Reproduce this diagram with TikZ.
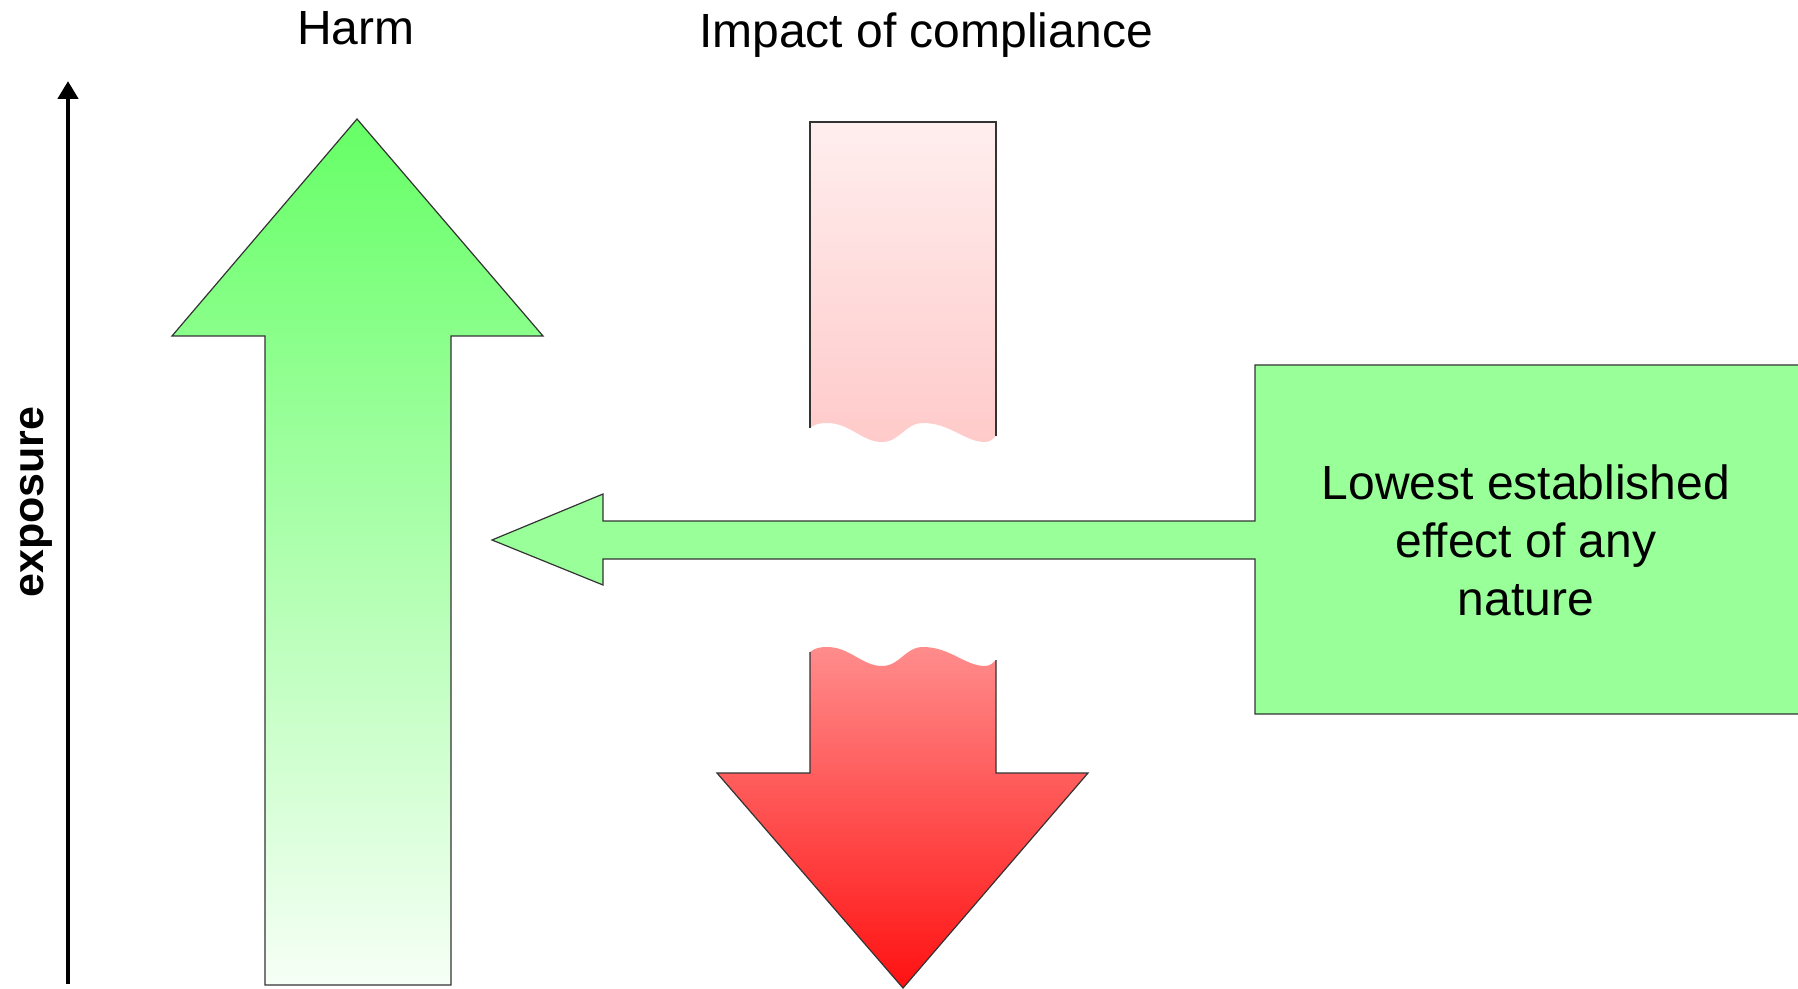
\documentclass[tikz,border=0pt]{standalone}
\usepackage{fontspec}
\setmainfont{Liberation Sans}
\usetikzlibrary{arrows.meta}

\definecolor{harmtop}{RGB}{102,255,102}
\definecolor{harmbottom}{RGB}{246,255,246}
\definecolor{pinktop}{RGB}{255,238,238}
\definecolor{pinkbottom}{RGB}{255,202,202}
\definecolor{redtop}{RGB}{255,140,140}
\definecolor{redbottom}{RGB}{255,17,17}
\definecolor{boxgreen}{RGB}{153,255,153}

\begin{document}
\begin{tikzpicture}[x=0.5pt,y=-0.5pt,
    outline/.style={draw=black!80,line width=0.6pt},
    title/.style={anchor=base,font=\fontsize{24}{29}\selectfont}]
  \useasboundingbox (0,0) rectangle (1798,989);
  % axis on the left
  \coordinate (axisbottom) at (68,984);
  \coordinate (axistop) at (68,81);
  \draw [line width=2.4pt,-{Triangle[length=9pt,width=10pt]}] (axisbottom) -- (axistop);
  \node [rotate=90,anchor=base,font=\bfseries\fontsize{21.5}{26}\selectfont] (exposure) at (43,502) {exposure};
  % headings
  \node [title] (harm) at (356,45) {Harm};
  \node [title] (impact) at (926,48) {Impact of compliance};
  % harm arrow
  \draw [outline,top color=harmtop,bottom color=harmbottom] %
        (265,985) -- (265,336) -- (172,336) -- (357,119) -- (543,336)%
        -- (451,336) -- (451,985) -- cycle;
  % torn bar, upper part
  \shade [top color=pinktop,bottom color=pinkbottom] %
        (810,122) -- (996,122) -- (996,436)%
        .. controls (993,439) and (990,442) .. (985,442)%
        .. controls (965,442) and (950,423) .. (923,423)%
        .. controls (905,423) and (900,442) .. (882,442)%
        .. controls (862,442) and (850,423) .. (827,423)%
        .. controls (820,423) and (815,424) .. (810,428) -- cycle;
  \draw [outline] (810,428) -- (810,122) -- (996,122) -- (996,436);
  % torn arrow, lower part
  \shade [top color=redtop,bottom color=redbottom] %
        (810,652) .. controls (815,648) and (820,647) .. (827,647)%
        .. controls (850,647) and (862,666) .. (882,666)%
        .. controls (900,666) and (905,647) .. (923,647)%
        .. controls (950,647) and (965,666) .. (985,666)%
        .. controls (990,666) and (993,663) .. (996,660)%
        -- (996,773) -- (1088,773) -- (903,988) -- (717,773) -- (810,773) -- cycle;
  \draw [outline] (810,652) -- (810,773) -- (717,773) -- (903,988)%
        -- (1088,773) -- (996,773) -- (996,660);
  % box with pointer
  \fill [boxgreen] (1800,365) -- (1255,365) -- (1255,521) -- (603,521)%
        -- (603,494) -- (492,540) -- (603,585) -- (603,559) -- (1255,559)%
        -- (1255,714) -- (1800,714) -- cycle;
  \draw [outline] (1800,365) -- (1255,365) -- (1255,521) -- (603,521)%
        -- (603,494) -- (492,540) -- (603,585) -- (603,559) -- (1255,559)%
        -- (1255,714) -- (1800,714);
  \node [align=center,font=\fontsize{24}{29}\selectfont] (lowest) at (1526,540)%
        {Lowest established\\effect of any\\nature};
\end{tikzpicture}
\end{document}
